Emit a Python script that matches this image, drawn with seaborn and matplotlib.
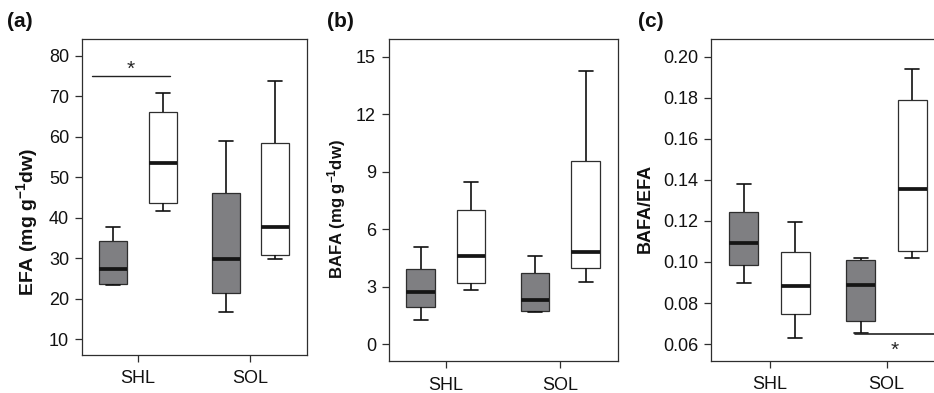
import matplotlib
matplotlib.use("Agg")
import numpy as np
import pandas as pd
import seaborn as sns
import matplotlib.pyplot as plt
from matplotlib.ticker import FormatStrFormatter

# ---------------- data (five-number summaries: min, q1, median, q3, max) -------------
sites = ["SHL", "SOL"]
groups = ["dark", "light"]

efa_shl_dark = [23.4, 23.6, 27.3, 34.3, 37.7]
efa_shl_light = [41.7, 43.6, 53.6, 66.2, 70.9]
efa_sol_dark = [16.8, 21.5, 29.9, 46.2, 58.9]
efa_sol_light = [29.7, 30.7, 37.7, 58.5, 73.7]

bafa_shl_dark = [1.25, 1.95, 2.71, 3.94, 5.04]
bafa_shl_light = [2.83, 3.21, 4.59, 7.02, 8.46]
bafa_sol_dark = [1.67, 1.70, 2.29, 3.70, 4.59]
bafa_sol_light = [3.23, 3.96, 4.80, 9.56, 14.25]

ratio_shl_dark = [0.0899, 0.0986, 0.1093, 0.1244, 0.1382]
ratio_shl_light = [0.0628, 0.0748, 0.0884, 0.1049, 0.1197]
ratio_sol_dark = [0.0652, 0.0712, 0.0890, 0.1009, 0.1017]
ratio_sol_light = [0.1017, 0.1053, 0.1358, 0.1788, 0.1940]

efa_ticks = [10, 20, 30, 40, 50, 60, 70, 80]
bafa_ticks = [0, 3, 6, 9, 12, 15]
ratio_ticks = [0.06, 0.08, 0.10, 0.12, 0.14, 0.16, 0.18, 0.20]

panel_letters = ["(a)", "(b)", "(c)"]
ylabels = ["EFA (mg g$^{-1}$dw)", "BAFA (mg g$^{-1}$dw)", "BAFA/EFA"]


def make_df(sd, sl, od, ol):
    rows = []
    for site, grp, vals in [("SHL", "dark", sd), ("SHL", "light", sl),
                            ("SOL", "dark", od), ("SOL", "light", ol)]:
        for v in vals:
            rows.append({"site": site, "group": grp, "value": v})
    return pd.DataFrame(rows)


dfs = [
    make_df(efa_shl_dark, efa_shl_light, efa_sol_dark, efa_sol_light),
    make_df(bafa_shl_dark, bafa_shl_light, bafa_sol_dark, bafa_sol_light),
    make_df(ratio_shl_dark, ratio_shl_light, ratio_sol_dark, ratio_sol_light),
]

# ---------------- style ----------------
sns.set_style("ticks")
plt.rcParams["font.family"] = ["Liberation Sans", "DejaVu Sans"]
plt.rcParams["mathtext.default"] = "regular"

W, H = 934, 393
fig = plt.figure(figsize=(W / 100, H / 100), dpi=100)

# axes boxes in pixels: left, right, top, bottom
boxes = [(81.7, 306.7, 39.3, 355.0),
         (388.5, 617.7, 39.3, 361.3),
         (711.0, 945.0, 39.3, 360.7)]
ylims = [(6.1, 84.1), (-0.9, 15.9), (0.0519, 0.2085)]
tick_sets = [efa_ticks, bafa_ticks, ratio_ticks]
label_x = [-0.244, -0.226, -0.279]
label_y = [0.421, 0.473, 0.475]
label_size = [14, 12, 13]
letter_x = [7.3, 327.3, 638.3]

palette = {"dark": "#7e7f82", "light": "#ffffff"}
edge = "#2e2e2e"

axes = []
for i, (l, r, t, b) in enumerate(boxes):
    ax = fig.add_axes([l / W, (H - b) / H, (r - l) / W, (b - t) / H])
    axes.append(ax)
    sns.boxplot(
        data=dfs[i], x="site", y="value", hue="group",
        order=sites, hue_order=groups, palette=palette,
        width=0.88, gap=0.44, whis=(0, 100), showfliers=False,
        linecolor=edge, linewidth=0.9,
        medianprops=dict(color="#151515", linewidth=2.7, solid_capstyle="butt"),
        whiskerprops=dict(color="#111111", linewidth=1.2),
        capprops=dict(color="#111111", linewidth=1.2),
        legend=False, ax=ax,
    )
    ax.set_xlim(-0.5, 1.5)
    ax.set_ylim(*ylims[i])
    ax.set_yticks(tick_sets[i])
    if i == 2:
        ax.yaxis.set_major_formatter(FormatStrFormatter("%.2f"))
    ax.set_xlabel("")
    ax.set_ylabel(ylabels[i], fontsize=label_size[i], fontweight="bold",
                  va="center", color="#111111")
    ax.yaxis.set_label_coords(label_x[i], label_y[i])
    for s in ax.spines.values():
        s.set_visible(True)
        s.set_linewidth(0.9)
        s.set_color(edge)
    ax.tick_params(axis="both", direction="out", length=5, width=0.9,
                   color=edge, labelsize=13, labelcolor="#111111")
    ax.tick_params(axis="x", pad=6)
    ax.tick_params(axis="y", pad=4)
    fig.text(letter_x[i] / W, 1 - 21.7 / H, panel_letters[i], fontsize=15,
             fontweight="bold", ha="left", va="center", color="#111111")

# significance annotations
axes[0].plot([-0.405, 0.281], [75.0, 75.0], color="#222222", lw=1.0)
axes[0].text(-0.065, 76.6, "*", ha="center", va="center", fontsize=15)
axes[2].plot([0.73, 1.6], [0.0647, 0.0647], color="#222222", lw=1.2)
axes[2].text(1.07, 0.0570, "*", ha="center", va="center", fontsize=15)

fig.savefig("out.png", dpi=100)
